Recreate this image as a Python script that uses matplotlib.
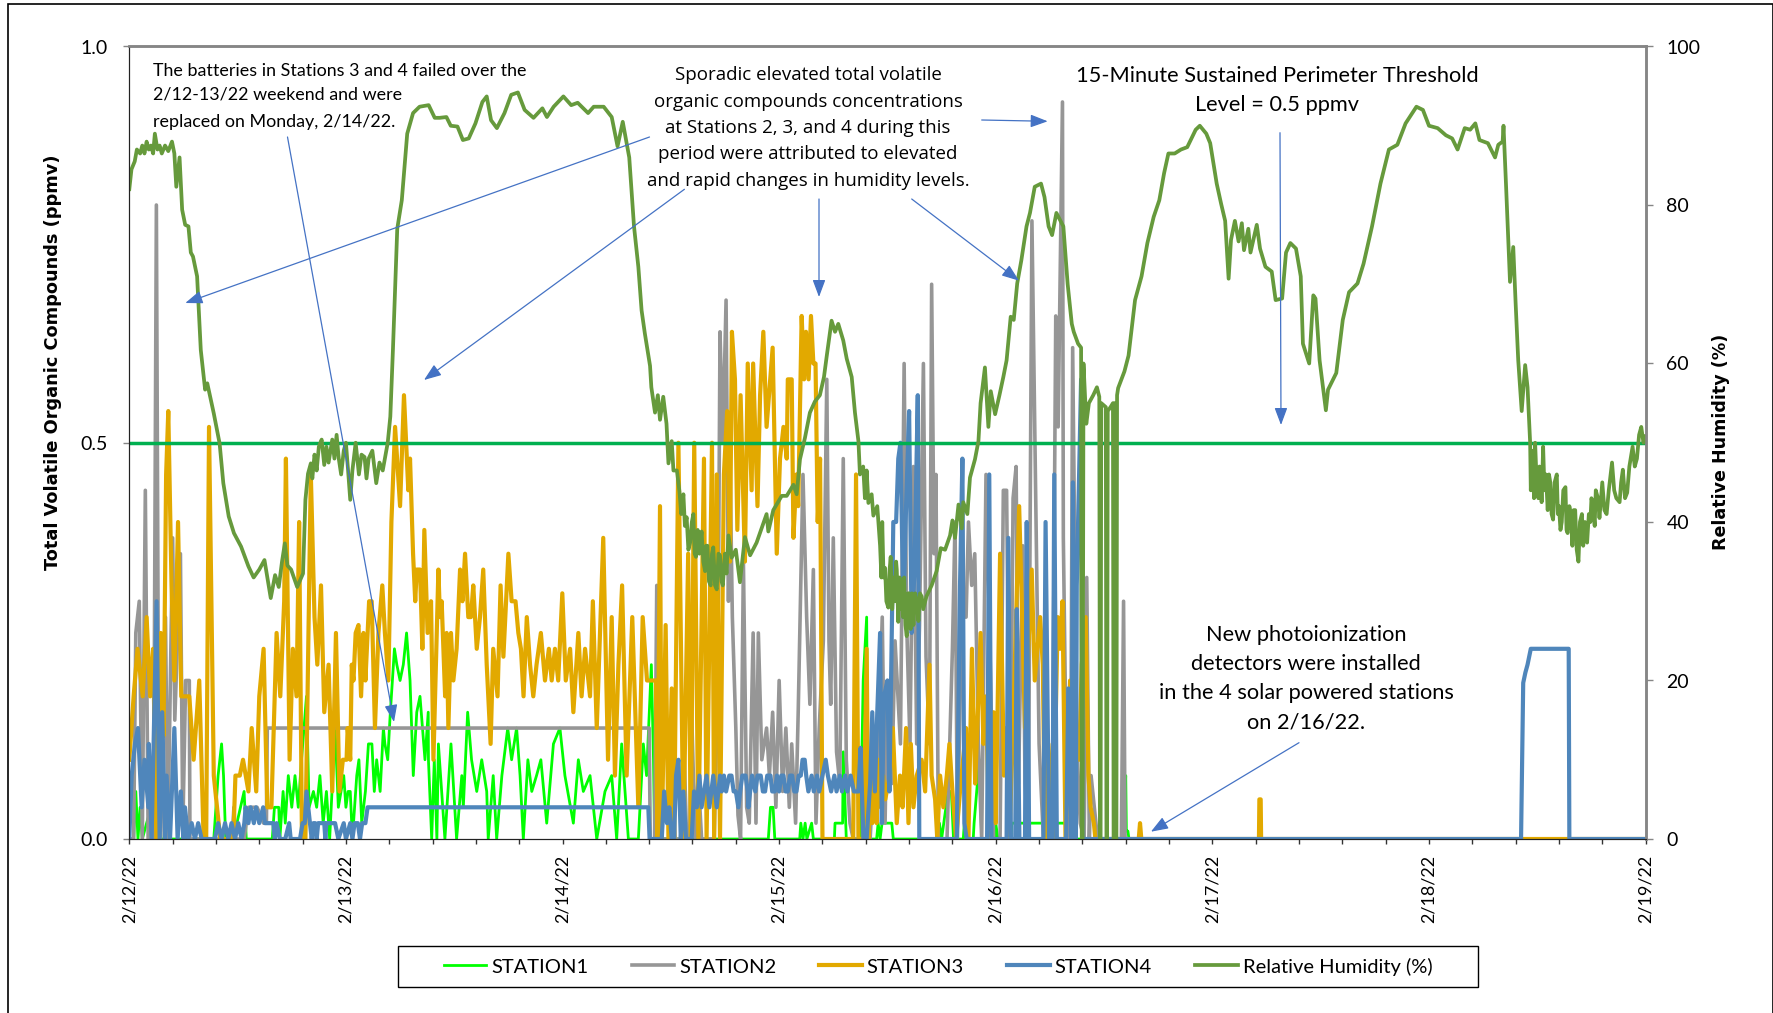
import numpy as np
import matplotlib
matplotlib.use("Agg")
import matplotlib.pyplot as plt
from matplotlib.patches import Rectangle

plt.rcParams['font.family'] = ['Lato', 'DejaVu Sans']

# all values: (days since 2/12/22, value)
station1 = [(0,0),(.02,0),(.03,.06),(.04,0),(.05,.04),(.06,0),(.09,.03),(.1,0),(.16,0),(.17,.04),(.18,0),(.3,0),
    (.39,0),(.41,.08),(.426,.12),(.435,.08),(.445,0),(.48,0),(.53,.06),(.54,0),(.6,0),(.66,0),(.67,.04),(.69,.04),(.695,0),(.71,.06),(.72,.02),
    (.734,.08),(.75,.04),(.765,.08),(.78,.04),(.795,.1),(.818,.18),(.83,.04),(.85,.06),(.865,.04),(.88,.08),(.895,.02),(.91,.06),(.925,0),
    (.95,.14),(.965,.04),(.99,.08),(1,.04),(1.01,.06),
    (1.02,.06),(1.03,0),(1.045,.06),(1.05,.08),(1.06,.1),(1.073,.02),(1.09,.06),(1.104,.12),(1.12,.12),(1.131,.06),(1.142,.1),(1.158,.06),(1.173,.14),(1.18,.12),(1.193,.1),(1.204,.155),
    (1.224,.24),(1.235,.22),(1.25,.2),(1.265,.22),(1.28,.26),(1.296,.2),(1.311,.08),(1.327,.16),(1.342,.18),(1.365,.1),(1.38,.16),(1.381,.1),(1.396,0),(1.408,.1),(1.42,0),(1.427,.12),(1.457,0),
    (1.485,.12),(1.511,0),(1.535,.08),(1.542,.04),(1.562,.16),(1.58,.1),(1.604,.06),(1.627,.1),(1.65,.06),(1.657,0),(1.68,.08),(1.696,0),(1.72,.08),(1.747,.14),(1.765,.1),(1.788,.14),(1.804,.08),(1.819,0),(1.84,.1),
    (1.858,.06),(1.88,.08),(1.9,.1),(1.927,.02),(1.958,.12),(1.988,.14),(2.011,.08),(2.05,.02),(2.073,.1),(2.096,.06),(2.127,.08),(2.158,0),(2.196,.06),(2.227,.08),(2.25,0),(2.273,.12),(2.304,0),(2.35,0),
    (2.373,.12),(2.388,.08),(2.41,.22),(2.42,.1),(2.425,0),(2.95,0),(2.96,.04),(2.972,.04),(2.98,0),(3.095,0),(3.1,.02),(3.11,0),(3.12,.02),(3.128,0),(3.15,.02),(3.158,0),(3.255,0),
    (3.258,.02),(3.293,.02),(3.296,.11),(3.31,0),(3.375,0),(3.388,.2),(3.404,.28),(3.412,0),(3.45,0),(3.457,.02),(3.466,0),(3.475,.02),(3.52,.02),(3.527,0),(3.735,0),(3.74,.02),(3.75,0),
    (3.78,.06),(3.795,.06),(3.805,0),(3.85,0),(3.855,.02),(3.864,0),(3.896,0),(3.9,.02),(3.924,.1),(3.935,0),(3.995,0),(4,.02),(4.01,0),(4.07,0),(4.074,.02),(4.35,.02),(4.356,0),
    (4.59,0),(4.6,.08),(4.603,.01),(4.61,.01),(4.615,0),(7,0)]

station2 = [(0,0),(.02,0),(.03,.26),(.046,.3),(.06,0),(.074,.44),(.087,0),(.112,0),(.125,.8),(.137,0),(.145,0),(.167,.28),(.178,0),(.2,.38),(.21,.15),(.236,.36),(.247,.01),(.26,.2),(.277,.2),(.28,0),
    (.475,0),(.483,.04),(.49,0),(.53,0),(.55,.04),(.59,.04),(.62,.02),(.633,.02),(.637,.14),(2.4,.14),(2.405,0),(2.425,0),(2.435,.32),(2.443,0),(2.5,0),(2.51,.06),(2.52,0),(2.55,0),(2.558,.14),(2.573,0),
    (2.587,0),(2.596,.16),(2.612,0),(2.626,.08),(2.642,0),(2.7,0),(2.712,.14),(2.72,.32),(2.727,.64),(2.74,.5),(2.755,.68),(2.766,.3),(2.773,.48),(2.784,.28),(2.8,.14),(2.81,.03),(2.822,0),
    (2.835,.35),(2.85,.04),(2.862,.02),(2.88,.26),(2.893,.02),(2.904,.26),(2.92,.1),(2.942,.14),(2.955,.08),(2.97,.16),(2.985,.04),(3.0,.2),(3.016,.06),(3.031,.14),(3.047,.04),(3.058,.12),(3.076,.02),(3.088,.16),(3.1,.32),
    (3.11,.46),(3.127,.28),(3.142,.17),(3.158,.34),(3.17,.02),(3.185,.14),(3.204,.25),(3.22,.58),(3.23,.25),(3.238,.17),(3.25,.38),(3.265,.11),(3.28,.07),(3.296,.48),(3.31,.1),(3.327,.02),(3.342,0),(3.42,0),(3.435,.08),
    (3.45,.04),(3.476,.28),(3.489,.02),(3.5,.2),(3.52,.07),(3.535,.25),(3.56,.12),(3.577,.6),(3.589,.27),(3.604,.12),(3.62,.47),(3.635,.12),(3.648,.27),(3.666,.6),(3.678,.23),(3.694,.12),(3.704,.7),(3.715,.36),(3.724,.46),(3.735,0),
    (3.775,0),(3.8,.24),(3.812,.4),(3.823,0),(3.843,.28),(3.863,.28),(3.874,.4),(3.889,.32),(3.903,.36),(3.92,.12),(3.935,0),(3.955,.46),(3.974,.23),(3.99,0),(4.02,0),(4.035,.44),(4.05,.44),(4.066,0),(4.08,.43),
    (4.094,.47),(4.105,.07),(4.125,.37),(4.135,.07),(4.15,0),(4.167,.78),(4.177,.58),(4.186,.41),(4.2,.12),(4.22,0),(4.26,0),(4.277,.66),(4.288,.52),(4.308,.93),(4.312,.38),(4.33,0),(4.345,0),(4.355,.62),(4.374,.12),(4.39,.02),
    (4.408,0),(4.42,.33),(4.432,0),(4.44,.08),(4.455,.04),(4.47,0),(4.58,0),(4.59,.3),(4.597,0),(7,0)]

station3 = [(0,.1),(.02,.18),(.038,.24),(.062,.18),(.08,.28),(.096,.18),(.11,.24),(.125,0),(.145,.26),(.158,.13),(.17,.46),(.18,.54),(.195,.32),(.208,.2),(.225,.4),(.24,.18),(.26,.18),(.277,.18),(.297,.1),(.323,.2),(.343,0),(.355,0),
    (.368,.52),(.39,.08),(.405,.04),(.42,0),(.48,0),(.49,.08),(.51,.08),(.525,.1),(.55,.06),(.565,.14),(.586,.06),(.6,.18),(.62,.24),(.637,.04),(.656,.04),(.68,.26),(.697,.18),(.715,.3),(.723,.48),(.74,.1),(.755,.24),
    (.772,.18),(.784,.4),(.797,0),(.813,0),(.838,.46),(.855,.28),(.868,.22),(.885,.32),(.9,.16),(.92,.22),(.937,.06),(.954,.26),(.97,.06),(.986,.1),
    (1.003,.1),(1.008,.14),(1.02,.1),(1.027,.22),(1.035,.2),(1.045,.26),(1.058,.27),(1.07,.18),(1.081,.26),(1.09,.2),(1.107,.3),(1.119,.3),(1.134,.14),(1.15,.26),(1.168,.32),(1.18,.26),(1.196,.2),(1.21,.4),(1.227,.52),
    (1.25,.42),(1.268,.56),(1.288,.44),(1.296,.48),(1.31,.36),(1.32,.3),(1.327,.34),(1.342,.34),(1.353,.24),(1.362,.39),(1.377,.26),(1.393,.3),(1.404,.1),(1.427,.34),(1.434,.28),(1.442,.3),(1.458,.18),(1.465,.26),(1.473,.14),(1.485,.26),
    (1.496,.2),(1.511,.24),(1.527,.34),(1.538,.3),(1.55,.36),(1.565,.28),(1.577,.28),(1.588,.32),(1.604,.24),(1.619,.28),(1.634,.34),(1.65,.22),(1.668,.12),(1.68,.24),(1.7,.18),(1.714,.32),(1.727,.23),(1.75,.36),(1.765,.3),
    (1.783,.3),(1.796,.26),(1.808,.24),(1.82,.18),(1.835,.28),(1.85,.22),(1.865,.18),(1.88,.22),(1.9,.26),(1.919,.2),(1.937,.24),(1.95,.2),(1.965,.24),(1.98,.2),(1.999,.31),(2.015,.2),(2.035,.24),(2.05,.16),(2.073,.26),
    (2.088,.18),(2.104,.24),(2.127,.18),(2.14,.3),(2.158,.14),(2.188,.38),(2.21,.1),(2.227,.28),(2.242,.08),(2.258,.22),(2.275,.32),(2.296,.08),(2.322,.28),(2.35,.04),(2.37,.28),(2.39,.2),(2.431,.2),(2.438,0),(2.45,.42),(2.458,0),
    (2.476,.27),(2.489,0),(2.504,.19),(2.515,0),(2.535,.5),(2.558,0),(2.58,.36),(2.592,0),(2.608,.5),(2.627,0),(2.653,.48),(2.665,0),(2.69,.5),(2.7,0),(2.712,.46),(2.727,0),(2.745,.46),(2.76,.54),(2.773,.35),(2.782,.64),(2.796,.58),
    (2.807,.39),(2.822,.56),(2.842,.35),(2.855,.6),(2.873,.44),(2.88,.6),(2.9,.42),(2.912,.56),(2.927,.64),(2.942,.52),(2.97,.62),(2.989,.36),(3.004,.48),(3.02,.52),(3.035,.48),(3.04,.58),(3.058,.58),(3.066,.38),
    (3.08,.46),(3.088,.42),(3.104,.66),(3.115,.58),(3.124,.64),(3.136,.58),(3.147,.66),(3.158,.6),(3.168,.6),(3.178,.4),(3.189,.48),(3.2,0),(3.342,0),(3.355,.46),(3.366,0),(3.39,0),(3.404,.24),(3.412,0),(3.42,.1),(3.43,.02),
    (3.44,.14),(3.45,.02),(3.46,.1),(3.47,.04),(3.48,.08),(3.49,.05),(3.51,.08),(3.525,.14),(3.543,.02),(3.558,.08),(3.57,.04),(3.586,.14),(3.597,.02),(3.608,.12),(3.62,.04),(3.635,.08),(3.658,.1),(3.674,.06),(3.694,.22),
    (3.704,.08),(3.72,.05),(3.73,0),(3.743,.08),(3.758,.04),(3.774,.08),(3.786,.12),(3.8,.06),(3.817,0),(3.835,.06),(3.863,.14),(3.874,0),(3.89,.24),(3.905,.07),(3.915,.14),(3.93,.26),(3.943,.12),(3.955,.18),(3.97,0),(3.99,.16),
    (4.0,.02),(4.02,.36),(4.038,.08),(4.05,.14),(4.063,0),(4.08,.14),(4.108,.42),(4.12,.3),(4.135,.14),(4.166,.34),(4.18,.2),(4.205,.28),(4.217,.22),(4.228,0),(4.243,.12),(4.266,0),(4.286,.28),(4.297,.24),(4.308,.3),(4.322,0),
    (4.343,.2),(4.355,0),(4.374,.14),(4.385,.1),(4.397,.22),(4.415,.28),(4.428,.08),(4.438,.04),(4.453,.02),(4.46,0),(4.66,0),(4.666,.02),(4.672,0),(5.215,0),(5.217,.05),(5.223,.05),(5.225,0),(7,0)]

station4 = [(0,0),(.011,.08),(.026,.12),(.04,.14),(.057,.04),(.07,.1),(.088,.04),(.09,.12),(.103,0),(.126,.3),(.14,0),(.152,.16),(.165,0),(.172,.08),(.188,0),(.208,.14),(.223,0),(.238,.06),(.25,0),(.257,.04),(.272,0),
    (.288,.02),(.303,0),(.318,.02),(.334,0),(.395,0),(.41,.02),(.426,0),(.442,.02),(.457,0),(.472,.02),(.488,0),(.503,.02),(.518,0),(.531,.02),(.537,.04),(.55,.02),(.56,.04),(.575,.02),(.585,.04),(.6,.02),(.618,.04),(.626,.02),
    (.665,.02),(.672,0),(.68,.02),(.695,0),(.72,0),(.738,.02),(.745,0),(.788,0),(.8,.02),(.81,.02),(.818,.06),(.834,.02),(.842,0),(.85,.02),(.858,.02),(.865,0),(.872,.02),(.9,.02),(.905,0),(.91,.02),(.95,.02),(.965,0),(.99,.02),
    (1.0,0),(1.02,.02),(1.03,0),(1.04,.02),(1.055,.02),(1.065,0),(1.075,.02),(1.09,.02),(1.1,.04),(2.396,.04),(2.402,0),(2.458,0),(2.469,.06),(2.482,.02),(2.493,.04),(2.504,0),(2.515,0),(2.524,.08),(2.535,.1),(2.546,0),
    (2.558,.06),(2.57,0),(2.596,0),(2.607,.06),(2.62,.04),(2.632,.08),(2.642,.04),(2.665,.08),(2.678,.04),(2.696,.08),(2.712,.04),(2.727,.08),(2.735,.06),(2.745,.08),(2.755,.06),(2.77,.08),(2.78,.08),(2.79,.06),(2.8,.06),
    (2.812,.04),(2.82,.06),(2.83,.08),(2.845,.08),(2.855,.06),(2.858,.04),(2.866,.06),(2.875,.08),(2.89,.06),(2.9,.08),(2.915,.08),(2.925,.06),(2.935,.06),(2.945,.08),(2.96,.08),(2.968,.06),(2.98,.06),(2.99,.08),(3.0,.06),
    (3.01,.08),(3.02,.08),(3.03,.06),(3.04,.06),(3.05,.08),(3.06,.08),(3.07,.06),(3.08,.06),(3.09,.08),(3.1,.08),(3.108,.1),(3.118,.1),(3.125,.08),(3.135,.06),(3.15,.08),(3.16,.06),(3.175,.08),(3.185,.06),(3.2,.08),(3.215,.1),
    (3.225,.08),(3.24,.06),(3.255,.08),(3.265,.06),(3.28,.08),(3.29,.06),(3.305,.08),(3.315,.06),(3.33,.08),(3.345,.06),(3.366,.06),(3.376,.115),(3.389,0),(3.404,0),(3.42,.07),(3.43,.16),(3.442,.06),(3.453,.16),(3.466,.26),
    (3.474,.02),(3.484,.18),(3.5,.2),(3.509,.06),(3.52,.26),(3.527,.4),(3.54,.4),(3.55,.48),(3.56,.5),(3.574,.28),(3.586,.42),(3.6,.54),(3.612,.26),(3.625,.34),(3.64,.56),(3.647,0),(3.82,0),(3.835,.32),(3.846,.48),(3.855,.02),
    (3.866,0),(3.96,0),(3.97,.46),(3.98,0),(4.05,0),(4.058,.38),(4.07,0),(4.09,0),(4.097,.29),(4.109,0),(4.135,0),(4.143,.4),(4.154,0),(4.22,0),(4.23,.4),(4.246,0),(4.262,0),(4.27,.46),(4.282,0),(4.325,0),(4.335,.19),(4.35,0),
    (4.356,.45),(4.37,0),(4.374,.32),(4.386,.48),(4.394,.58),(4.4,0),(6.425,0),(6.435,.197),(6.445,.21),(6.455,.22),(6.47,.24),(6.645,.24),(6.648,0),(7,0)]

humidity = [(0,82),(.01,84.5),(.025,85.5),(.035,87),(.05,86.5),(.06,87.5),(.07,86.5),(.08,88),(.09,87),(.1,87.5),(.11,86.5),(.118,89),(.13,87),(.14,87.5),(.15,86.5),(.165,87.5),(.18,86.8),(.197,88),(.208,86.5),(.217,82.3),
    (.232,86),(.244,79.4),(.258,77.5),(.273,77.3),(.284,74),(.294,73.5),(.313,71),(.33,61.7),(.35,56.7),(.36,57.5),(.39,53.7),(.417,49.9),(.434,44.9),(.459,40.7),(.483,38.6),(.516,36.9),(.55,34.4),(.574,33),(.6,34),(.624,35.2),
    (.653,30.4),(.673,33.3),(.69,31.8),(.705,35),(.718,37.3),(.73,34.5),(.747,34),(.775,31.8),(.802,33.5),(.813,42.8),(.825,46.1),(.838,47.4),(.845,45.5),(.855,48.5),(.865,46.5),(.875,49.5),(.888,50.4),(.9,47.2),(.91,49.5),
    (.92,47.5),(.937,50.4),(.947,48),(.957,51),(.967,48),(.978,46),(.99,49),(1.0,50),(1.01,46.5),(1.02,42.8),(1.03,46.5),(1.045,50),(1.06,46),(1.072,48.5),(1.086,48.2),(1.095,45.5),(1.105,48),(1.122,49),(1.14,44.9),(1.155,47.5),
    (1.17,46.5),(1.193,50),(1.205,53.3),(1.217,61.7),(1.237,77),(1.258,80.6),(1.283,89),(1.31,91.6),(1.34,92.4),(1.382,92.6),(1.41,91),(1.433,91),(1.464,91.1),(1.484,90),(1.515,89.9),(1.54,88.2),(1.567,88.4),(1.598,90.3),(1.63,93),
    (1.65,93.7),(1.67,90.7),(1.697,89.7),(1.732,91.6),(1.763,93.9),(1.794,94.2),(1.825,92),(1.866,91),(1.907,92.2),(1.928,91.1),(1.959,92.4),(2.004,93.7),(2.04,92.6),(2.07,92.9),(2.118,91.6),(2.144,92.4),(2.19,92.4),(2.227,91.1),
    (2.254,87.4),(2.278,90.5),(2.308,86),(2.33,77.3),(2.35,72.2),(2.365,66.7),(2.38,63.8),(2.404,59.7),(2.41,57),(2.427,53.8),(2.44,56),(2.45,52.9),(2.465,55.8),(2.48,52.4),(2.489,47.4),(2.504,50.2),(2.512,46.5),(2.528,46.5),
    (2.54,43.8),(2.548,41),(2.558,43.5),(2.565,39.5),(2.573,40.6),(2.581,36.5),(2.589,37.4),(2.597,40),(2.604,41),(2.61,36),(2.616,35.6),(2.624,39),(2.632,36),(2.642,38.8),(2.65,35),(2.658,33.8),(2.663,37),(2.669,37),(2.676,32.5),
    (2.684,32),(2.69,36),(2.696,36.8),(2.704,32),(2.712,31.5),(2.72,36),(2.727,35.8),(2.734,32.5),(2.74,32),(2.75,36),(2.757,33.5),(2.766,38.3),(2.781,35.5),(2.8,36.5),(2.819,32.4),
    (2.842,38.1),(2.866,35.8),(2.896,37.4),(2.919,39.2),(2.942,41),(2.95,38.8),(2.973,41.5),(3.012,43.3),(3.035,43.3),(3.066,44.7),(3.081,43.5),(3.096,47.9),(3.119,50.6),(3.142,53.8),(3.165,55.2),(3.188,56),(3.207,58.3),
    (3.22,61),(3.242,65.4),(3.258,64),(3.273,65),(3.296,62.9),(3.312,60.6),(3.335,58.3),(3.35,53.8),(3.366,50.2),(3.373,46),(3.388,47),(3.396,43),(3.404,46.5),(3.412,42.4),(3.427,43.5),(3.435,40.8),(3.453,42),
    (3.466,37),(3.472,33),(3.476,40),(3.482,33),(3.489,34.2),(3.495,30),(3.504,29.2),(3.51,34),(3.515,35.6),(3.522,29),(3.53,33),(3.535,30),(3.54,35),(3.543,34),(3.55,27.4),(3.556,33),(3.562,29),(3.566,32.5),(3.572,28),(3.577,33),
    (3.583,27),(3.589,25.6),(3.595,31),(3.6,31),(3.607,26.5),(3.613,31),(3.62,27),(3.628,31),(3.635,30),(3.643,27.5),(3.65,31),(3.658,30.6),(3.665,29),(3.68,30.6),(3.704,32),(3.727,33.8),(3.746,36.7),(3.766,36.5),
    (3.789,38.3),(3.8,40.2),(3.812,38),(3.828,42.2),(3.843,39.2),(3.85,42.5),(3.869,41),(3.881,45.6),(3.904,47.9),(3.92,50.2),(3.93,55),(3.95,59.5),(3.966,52),(3.977,56.5),(3.997,53.6),(4.017,56),(4.035,58.3),(4.05,60.4),(4.069,65.9),
    (4.083,65.5),(4.099,70.1),(4.118,73),(4.142,77.3),(4.158,79),(4.18,82.3),(4.209,82.7),(4.225,81),(4.244,77.3),(4.26,76.2),(4.28,79),(4.312,77.3),(4.332,70),(4.351,65),(4.36,64),(4.38,62.5),(4.394,62),(4.397,0),(4.401,0),(4.405,60),
    (4.418,52.4),(4.43,55),(4.45,56),(4.467,57),(4.478,55.8),(4.481,0),(4.484,0),(4.487,55),(4.508,54.5),(4.511,0),(4.514,0),(4.517,54),(4.53,54.5),(4.541,55),(4.544,0),(4.547,0),(4.55,55),(4.553,0),(4.557,0),(4.56,56),(4.565,56.9),
    (4.594,59),(4.613,61),(4.643,68),(4.673,71),(4.7,75.2),(4.729,78.5),(4.755,80.6),(4.777,84),(4.797,86.5),(4.826,86.5),(4.855,87),(4.884,87.3),(4.923,89.5),(4.942,90),(4.972,89),(4.99,87.8),(5.02,82.7),(5.04,80.2),(5.059,78),
    (5.075,70.7),(5.086,75.6),(5.104,78),(5.121,75.4),(5.136,77.7),(5.146,74.3),(5.166,77),(5.176,74),(5.205,77.5),(5.22,74.5),(5.245,72.2),(5.274,71.6),(5.292,68),(5.322,68.2),(5.34,74),(5.36,75.2),(5.386,74.5),(5.408,71),
    (5.418,62.5),(5.447,60),(5.466,68.6),(5.476,68.2),(5.495,60.4),(5.524,54.1),(5.534,56.7),(5.572,58.8),(5.602,65.5),(5.631,69),(5.67,70.1),(5.698,72.6),(5.737,77.3),(5.776,82.7),(5.815,87),(5.854,87.6),(5.892,90.3),(5.942,92.4),
    (5.972,92),(6.0,90),(6.04,89.7),(6.078,88.8),(6.107,88.4),(6.132,87),(6.165,89.7),(6.19,89.5),(6.214,90.3),(6.233,88.2),(6.272,87.8),(6.305,86),(6.32,87.6),(6.34,88),(6.344,90),(6.356,82.3),(6.374,70.3),(6.389,74.7),(6.4,67.6),
    (6.412,60.4),(6.428,54),(6.444,59.8),(6.455,57),(6.467,50),(6.47,44),(6.475,49),(6.48,46.8),(6.485,43),(6.49,50),(6.497,45),(6.505,43),(6.51,47),(6.515,46),(6.52,42.5),(6.527,49.5),(6.533,44),(6.54,46),(6.548,41.5),(6.554,46),
    (6.56,45),(6.566,41),(6.573,40.3),(6.58,45),(6.59,46),(6.595,41),(6.6,42),(6.607,39),(6.613,40),(6.62,44),(6.63,44.4),(6.635,39),(6.64,38.6),(6.648,42),(6.655,41),(6.662,37),(6.668,41.5),(6.675,41.5),(6.682,36.5),(6.69,35),(6.697,40),
    (6.706,41),(6.712,37),(6.72,40),(6.73,37.4),(6.738,41),(6.745,40),(6.75,43),(6.757,42),(6.765,39.5),(6.77,44),(6.78,43),(6.787,40.5),(6.8,45),(6.81,41.5),(6.82,41),(6.83,44),(6.845,47.5),(6.855,44),(6.865,43),(6.88,42.5),(6.887,45),
    (6.895,46.6),(6.905,43),(6.915,43.7),(6.925,47),(6.94,49.5),(6.95,47),(6.96,48),(6.97,51),(6.98,52),(6.99,50),(7.0,50.8)]

threshold = 0.5
day_labels = ['2/12/22', '2/13/22', '2/14/22', '2/15/22', '2/16/22', '2/17/22', '2/18/22', '2/19/22']

W, H = 1774, 1013

def fx(px):
    return px / W

def fy(py):
    return 1 - py / H

fig = plt.figure(figsize=(W / 100, H / 100), dpi=100)
ax = fig.add_axes([fx(129.3), fy(839), 1516.3 / W, 792.5 / H])
ax2 = ax.twinx()

series = [(station1, '#00FF00', 2.0, 'STATION1'), (station2, '#969696', 2.6, 'STATION2'),
          (station3, '#E2A900', 3.0, 'STATION3'), (station4, '#4F86BB', 3.0, 'STATION4')]
handles = []
for data, col, lw, name in series:
    arr = np.array(data)
    line, = ax.plot(arr[:, 0], arr[:, 1], color=col, lw=lw, label=name)
    handles.append(line)
ax.axhline(threshold, color='#00B050', lw=2.5)

arr = np.array(humidity)
rh_line, = ax2.plot(arr[:, 0], arr[:, 1], color='#669A3C', lw=2.7, label='Relative Humidity (%)')
handles.append(rh_line)

ax.set_xlim(0, 7)
ax.set_ylim(0, 1)
ax2.set_ylim(0, 100)
ax.set_yticks([0, .5, 1])
ax.set_yticklabels(['0.0', '0.5', '1.0'])
ax2.set_yticks([0, 20, 40, 60, 80, 100])
ax.set_xticks(range(8))
ax.set_xticklabels(day_labels, rotation=90, fontsize=13)
ax.set_xticks(np.arange(0, 7.01, .2), minor=True)
ax.tick_params(axis='x', which='major', length=3.6, width=1, color='#333333', pad=7.5)
ax.tick_params(axis='x', which='minor', length=3.6, width=1, color='#333333')
ax.tick_params(axis='y', length=4.5, width=1, color='#868686', labelsize=14, pad=11)
ax2.tick_params(axis='y', length=5, width=1, color='#868686', labelsize=14, pad=10)

for a in (ax, ax2):
    a.spines['left'].set_color('#222222')
    a.spines['bottom'].set_color('#222222')
    a.spines['top'].set_color('#868686')
    a.spines['right'].set_color('#868686')
    a.spines['top'].set_linewidth(1.8)
    a.spines['right'].set_linewidth(1.8)

fig.text(fx(53), fy(362), 'Total Volatile Organic Compounds (ppmv)', rotation=90, ha='center', va='center',
         family='DejaVu Sans', weight='bold', fontsize=12.75)
fig.text(fx(1721), fy(442), 'Relative Humidity (%)', rotation=90, ha='center', va='center',
         family='DejaVu Sans', weight='bold', fontsize=12.6)

# text boxes, one line at a time so the spacing stays like the original
for txt, py in [('The batteries in Stations 3 and 4 failed over the', 71), ('2/12-13/22 weekend and were', 95),
                ('replaced on Monday, 2/14/22.', 122)]:
    fig.text(fx(153), fy(py), txt, fontsize=12.9, va='center', ha='left')
for txt, py in [('Sporadic elevated total volatile', 75), ('organic compounds concentrations', 102),
                ('at Stations 2, 3, and 4 during this', 128), ('period were attributed to elevated', 154),
                ('and rapid changes in humidity levels.', 181)]:
    fig.text(fx(808), fy(py), txt, fontsize=13.5, va='center', ha='center', family='Open Sans')
for txt, py in [('15-Minute Sustained Perimeter Threshold', 76), ('Level = 0.5 ppmv', 105)]:
    fig.text(fx(1277), fy(py), txt, fontsize=15.7, va='center', ha='center')
for txt, py in [('New photoionization', 635), ('detectors were installed', 664),
                ('in the 4 solar powered stations', 693), ('on 2/16/22.', 722)]:
    fig.text(fx(1306), fy(py), txt, fontsize=15.7, va='center', ha='center')

arrows = [((287.5, 137), (394, 722)), ((649.5, 137), (185.3, 303)), ((684.4, 189.3), (424, 380)),
          ((819, 199), (819, 297)), ((911.7, 199), (1019, 280.7)), ((981.7, 120), (1047.7, 121.3)),
          ((1280, 132.7), (1281, 425)), ((1299, 742.7), (1150.9, 831.7))]
for start, tip in arrows:
    ax2.annotate('', xy=(fx(tip[0]), fy(tip[1])), xytext=(fx(start[0]), fy(start[1])),
                 xycoords='figure fraction', textcoords='figure fraction',
                 arrowprops=dict(arrowstyle='-|>,head_length=0.75,head_width=0.28', color='#4472C4', lw=0.9,
                                 shrinkA=0, shrinkB=0, mutation_scale=14), annotation_clip=False)

fig.legend(handles=handles, ncol=5, loc='center', bbox_to_anchor=(fx(938), fy(966.5)), fontsize=14.5,
           frameon=False, handlelength=2.1, handletextpad=0.25, columnspacing=2.15, borderpad=0)
fig.add_artist(Rectangle((fx(398), fy(987)), 1080 / W, 41 / H, transform=fig.transFigure, fill=False,
                         edgecolor='black', lw=1))

# outer chart border, runs off the bottom like in the original
fig.add_artist(Rectangle((fx(8), fy(1030)), 1765 / W, 1026 / H, transform=fig.transFigure, fill=False,
                         edgecolor='black', lw=1.2))

fig.savefig('out.png', dpi=100)
